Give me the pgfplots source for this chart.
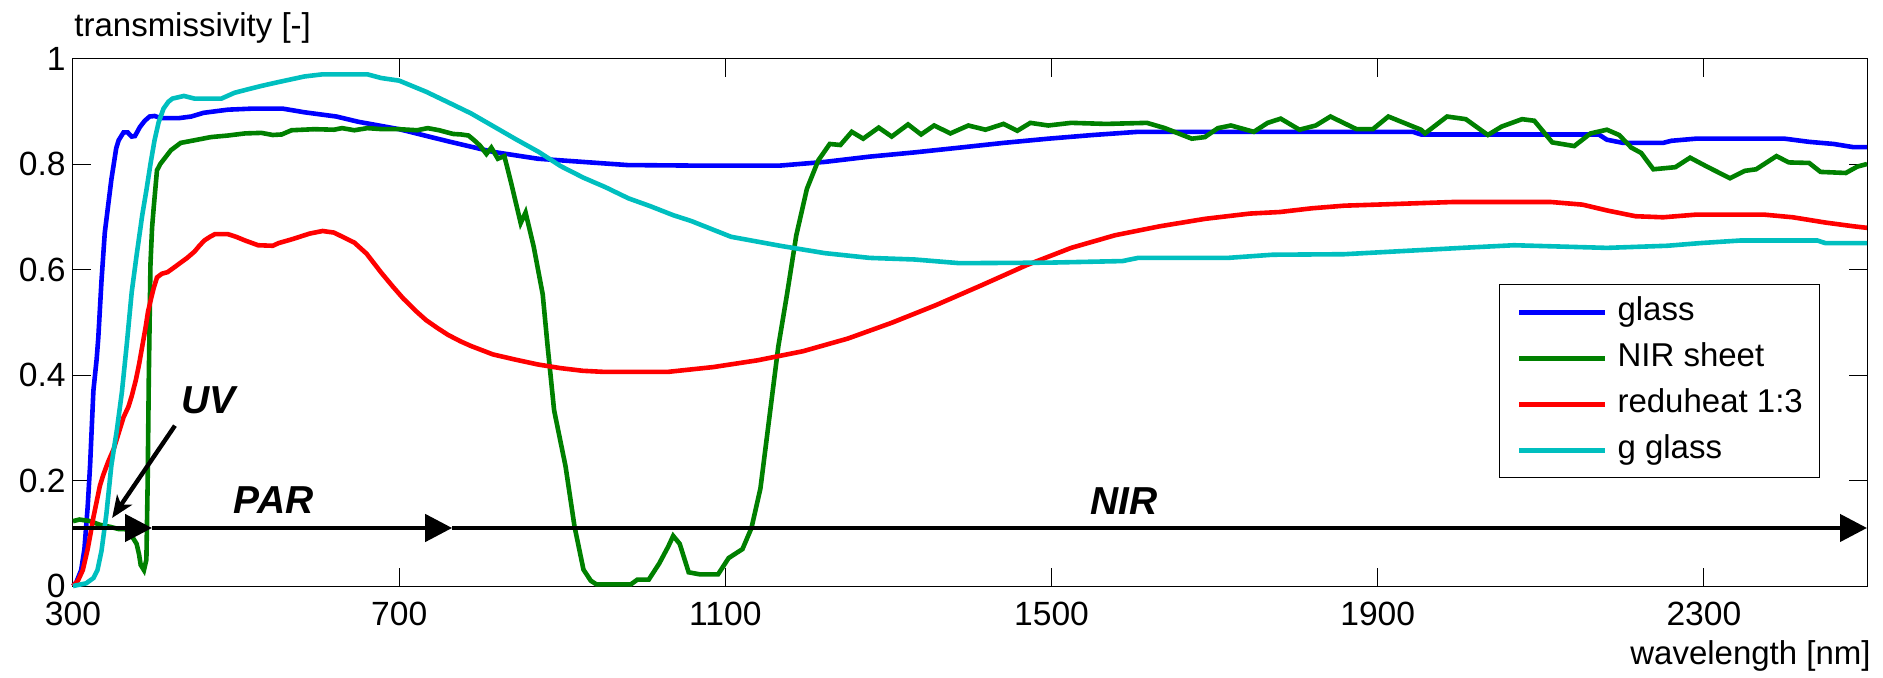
\documentclass[border=0pt]{standalone}
\usepackage{fontspec}
\setmainfont{Liberation Sans}
\usepackage{pgfplots}
\pgfplotsset{compat=1.18}
\usetikzlibrary{arrows.meta}
\definecolor{mBlue}{rgb}{0,0,1}
\definecolor{mGreen}{rgb}{0,0.5,0}
\definecolor{mRed}{rgb}{1,0,0}
\definecolor{mCyan}{rgb}{0,0.75,0.75}

\begin{document}
\fontsize{16.5}{19}\selectfont
\begin{tikzpicture}
\useasboundingbox (-36.5pt,-45.5pt) rectangle (905pt,293pt);
\begin{axis}[
  at={(0,0)}, anchor=south west,
  scale only axis, width=897pt, height=263.75pt,
  xmin=300, xmax=2500, ymin=0, ymax=1,
  clip=false,
  xtick={300,700,1100,1500,1900,2300},
  ytick={0,0.2,0.4,0.6,0.8,1},
  tick align=inside, tick pos=both,
  major tick length=9pt,
  every tick/.style={black, line width=0.5pt},
  axis line style={black, line width=0.5pt},
  tick label style={font=\fontsize{16.8}{19}\selectfont},
  /pgf/number format/assume math mode=true,
  /pgf/number format/1000 sep={},
  xticklabel style={inner sep=0pt, anchor=north, yshift=-7.8pt},
  yticklabel style={inner sep=0pt, anchor=east, xshift=-3.5pt},
  legend style={at={(0.795,0.572)}, anchor=north west,
    draw=black, line width=0.5pt, fill=white,
    inner xsep=8.5pt, inner ysep=6pt,
    row sep=7.5pt, column sep=4.9pt,
    nodes={inner sep=0pt, text height=12pt, text depth=3.5pt,
      font=\fontsize{16.5}{19}\selectfont}},
  legend cell align=left,
  legend image code/.code={\draw[#1] (0pt,0pt) -- (43.2pt,0pt);},
]
\addplot[mBlue, line width=2.3pt] coordinates {
(300,0.0)(304,0.007)(310,0.03)(314,0.07)(318,0.15)(321,0.23)(325,0.37)
(329,0.43)(331,0.47)(335,0.58)(339,0.67)(343,0.72)(347,0.77)(350,0.80)
(353,0.83)(356,0.845)(362,0.86)(367,0.86)(372,0.852)(376,0.853)(382,0.87)
(388,0.882)(394,0.89)(400,0.891)(408,0.887)(430,0.887)(445,0.89)(460,0.897)
(490,0.903)(520,0.905)(557,0.905)(584,0.898)(623,0.89)(650,0.88)(700,0.866)
(760,0.843)(815,0.823)(870,0.81)(925,0.804)(980,0.798)(1060,0.797)(1167,0.797)
(1222,0.804)(1277,0.814)(1332,0.822)(1387,0.831)(1441,0.84)(1496,0.848)
(1551,0.855)(1606,0.861)(1943,0.861)(1953,0.856)(2171,0.856)(2181,0.846)
(2201,0.84)(2250,0.84)(2260,0.844)(2290,0.848)(2399,0.848)(2429,0.842)
(2459,0.838)(2483,0.832)(2500,0.832)
};
\addlegendentry{glass}
\addplot[mGreen, line width=2.3pt] coordinates {
(300,0.123)(308,0.126)(321,0.123)(333,0.116)(346,0.112)(356,0.108)(364,0.108)
(368,0.103)(372,0.095)(378,0.08)(381,0.06)(383,0.04)(387,0.03)(390,0.05)
(391.5,0.19)(393,0.40)(395,0.61)(397,0.68)(399,0.718)(403,0.788)(407,0.80)
(412,0.81)(420,0.826)(432,0.84)(449,0.845)(469,0.851)(490,0.854)(511,0.858)
(531,0.859)(545,0.855)(556,0.856)(568,0.864)(596,0.866)(620,0.865)(630,0.868)
(645,0.864)(661,0.868)(680,0.866)(700,0.866)(722,0.864)(735,0.868)(749,0.864)
(766,0.857)(776,0.856)(785,0.854)(792,0.845)(799,0.835)(807,0.819)(813,0.831)
(821,0.81)(829,0.815)(837,0.766)(849,0.688)(855,0.708)(865,0.643)(876,0.553)
(882,0.455)(890,0.333)(904,0.227)(915,0.113)(926,0.031)(935,0.01)(942,0.003)
(984,0.003)(992,0.012)(1006,0.012)(1019,0.043)(1030,0.075)(1036,0.095)
(1044,0.08)(1055,0.026)(1069,0.022)(1091,0.022)(1104,0.053)(1121,0.07)
(1132,0.11)(1143,0.185)(1154,0.32)(1165,0.455)(1176,0.557)(1187,0.665)
(1200,0.753)(1214,0.807)(1228,0.838)(1241,0.836)(1255,0.861)(1269,0.848)
(1288,0.869)(1304,0.852)(1324,0.875)(1340,0.856)(1356,0.873)(1376,0.858)
(1398,0.873)(1419,0.865)(1441,0.876)(1458,0.863)(1474,0.878)(1496,0.873)
(1524,0.878)(1567,0.876)(1617,0.878)(1639,0.868)(1672,0.848)(1688,0.851)
(1704,0.868)(1720,0.873)(1748,0.861)(1765,0.878)(1781,0.886)(1804,0.865)
(1824,0.873)(1842,0.89)(1874,0.866)(1894,0.866)(1913,0.89)(1953,0.865)
(1958,0.858)(1985,0.89)(2008,0.885)(2035,0.855)(2052,0.871)(2077,0.885)
(2092,0.882)(2114,0.841)(2141,0.834)(2161,0.858)(2181,0.865)(2196,0.855)
(2211,0.831)(2223,0.821)(2238,0.79)(2265,0.794)(2283,0.812)(2305,0.794)
(2332,0.773)(2350,0.787)(2364,0.79)(2389,0.815)(2404,0.803)(2429,0.802)
(2443,0.785)(2474,0.783)(2488,0.795)(2500,0.80)
};
\addlegendentry{NIR sheet}
\addplot[mRed, line width=2.3pt] coordinates {
(300,0.0)(306,0.01)(312,0.03)(318,0.07)(321,0.095)(325,0.13)(329,0.16)
(333,0.19)(337,0.21)(343,0.235)(350,0.26)(356,0.29)(362,0.32)(368,0.34)
(372,0.36)(377,0.39)(381,0.42)(385,0.455)(389,0.49)(392,0.52)(395,0.54)
(399,0.565)(403,0.585)(409,0.592)(416,0.595)(425,0.605)(432,0.613)(440,0.622)
(449,0.634)(455,0.645)(461,0.655)(468,0.662)(474,0.667)(490,0.667)(500,0.662)
(511,0.655)(527,0.646)(545,0.645)(552,0.65)(570,0.658)(590,0.668)(606,0.673)
(620,0.67)(645,0.651)(660,0.63)(678,0.594)(692,0.568)(705,0.545)(720,0.522)
(733,0.504)(747,0.489)(760,0.476)(775,0.464)(788,0.455)(815,0.439)(843,0.429)
(870,0.42)(898,0.413)(925,0.408)(950,0.406)(1030,0.406)(1085,0.415)
(1140,0.428)(1195,0.445)(1250,0.469)(1304,0.499)(1359,0.533)(1414,0.57)
(1469,0.608)(1524,0.641)(1578,0.665)(1633,0.682)(1688,0.696)(1743,0.706)
(1780,0.709)(1819,0.716)(1859,0.721)(1918,0.724)(1993,0.728)(2112,0.728)
(2151,0.723)(2181,0.712)(2216,0.701)(2250,0.699)(2290,0.704)(2374,0.704)
(2409,0.699)(2449,0.689)(2483,0.682)(2500,0.679)
};
\addlegendentry{reduheat 1:3}
\addplot[mCyan, line width=2.3pt] coordinates {
(300,0.0)(316,0.005)(325,0.015)(330,0.03)(335,0.067)(341,0.137)(347,0.228)
(354,0.298)(360,0.368)(366,0.459)(372,0.557)(378,0.627)(385,0.704)(390,0.75)
(395,0.8)(400,0.845)(405,0.879)(411,0.905)(417,0.918)(422,0.924)(436,0.929)
(449,0.924)(482,0.924)(498,0.935)(513,0.941)(531,0.948)(551,0.955)(584,0.966)
(606,0.97)(661,0.97)(678,0.963)(700,0.958)(733,0.937)(760,0.917)(788,0.896)
(815,0.872)(843,0.847)(871,0.823)(898,0.796)(926,0.774)(953,0.756)(981,0.735)
(1008,0.72)(1036,0.703)(1058,0.692)(1107,0.662)(1167,0.645)(1222,0.631)
(1277,0.622)(1332,0.619)(1387,0.612)(1496,0.613)(1587,0.616)(1606,0.622)
(1716,0.622)(1771,0.628)(1859,0.629)(1943,0.636)(2003,0.641)(2067,0.646)
(2181,0.641)(2255,0.645)(2295,0.65)(2345,0.655)(2439,0.655)(2449,0.65)
(2500,0.65)
};
\addlegendentry{g glass}
% band arrows
\draw[line width=2.2pt, -{Triangle[length=13.5pt,width=13.5pt]}]
  (axis cs:300,0.11) -- (axis cs:397,0.11);
\draw[line width=2.2pt, -{Triangle[length=13.5pt,width=13.5pt]}]
  (axis cs:397,0.11) -- (axis cs:765,0.11);
\draw[line width=2.2pt, -{Triangle[length=13.5pt,width=13.5pt]}]
  (axis cs:765,0.11) -- (axis cs:2500,0.11);
\draw[line width=2.2pt, -{Stealth[length=11pt,width=9pt,inset=3pt]}]
  (axis cs:425,0.304) -- (axis cs:348,0.129);
\node[font=\fontsize{19.5}{22}\selectfont\bfseries\itshape] at (axis cs:466,0.353) {UV};
\node[font=\fontsize{19.5}{22}\selectfont\bfseries\itshape] at (axis cs:546,0.162) {PAR};
\node[font=\fontsize{19.5}{22}\selectfont\bfseries\itshape] at (axis cs:1589,0.161) {NIR};
\end{axis}
\node[anchor=base west, inner sep=0pt] at ([xshift=0.5pt,yshift=11.25pt]current axis.north west) {transmissivity [-]};
\node[anchor=base east, inner sep=0pt] at ([xshift=2pt,yshift=-39pt]current axis.south east) {wavelength [nm]};
\end{tikzpicture}
\end{document}
